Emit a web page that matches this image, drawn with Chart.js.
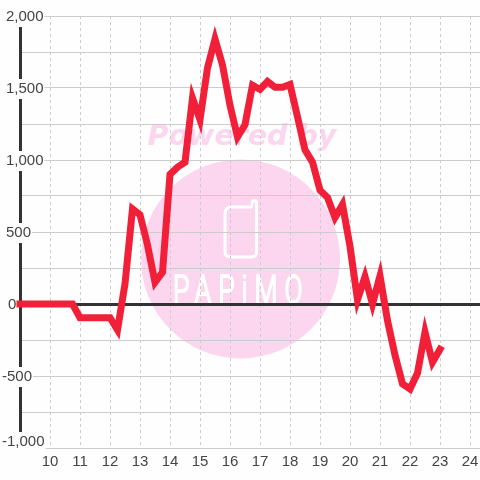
<!DOCTYPE html>
<html>
<head>
<meta charset="utf-8">
<style>html,body{margin:0;padding:0;background:#fefefe}canvas{display:block}</style>
<script src="https://cdn.jsdelivr.net/npm/chart.js@4/dist/chart.umd.min.js"></script>
</head>
<body>
<canvas id="c" width="480" height="480"></canvas>
<script>
const hours = [9,9.25,9.5,9.75,10,10.25,10.5,10.75,11,11.25,11.5,11.75,12,12.25,12.5,12.75,13,13.25,13.5,13.75,14,14.25,14.5,14.75,15,15.25,15.5,15.75,16,16.25,16.5,16.75,17,17.25,17.5,17.75,18,18.25,18.5,18.75,19,19.25,19.5,19.75,20,20.25,20.5,20.75,21,21.25,21.5,21.75,22,22.25,22.5,22.75,23];
const values = [0,0,0,0,0,0,0,0,-95,-95,-95,-95,-95,-180,140,660,620,410,150,220,900,950,985,1430,1280,1640,1840,1660,1380,1160,1245,1520,1490,1545,1505,1505,1525,1300,1070,985,790,740,600,690,400,30,190,0,195,-115,-355,-555,-590,-480,-195,-405,-315];
const labeledY = [2000,1500,1000,500,-500,-1000];
const BG = '#fefefe', INK = '#444', GRID = '#ccc', AXIS = '#333', PINK = '#fbd6ee';

const watermark = {
  id: 'watermark',
  beforeDraw(chart) {
    const c = chart.ctx;
    // nudge y labels: negatives start further left, zero further right, -1,000 sits above its line
    const sy = chart.scales.y;
    sy.getLabelItems(chart.chartArea).forEach(item => {
      if (item.__moved) return;
      item.__moved = true;
      const v = Number(String(item.label).replace(/,/g, ''));
      if (item.label === '') return;
      const t = item.options.translation;
      const dx = v < 0 ? -4 : (v === 0 ? 2 : 0);
      const dy = v === -1000 ? -6 : 1;
      t[0] += dx; t[1] += dy;
      if (item.backdrop) {
        item.backdrop.left += dx;
        item.backdrop.top = t[1] - (v === -1000 ? 6 : 9);
        item.backdrop.height = v === -1000 ? 15 : 16;
      }
    });
    c.save();
    c.fillStyle = BG;
    c.fillRect(0, 0, 480, 480);
    c.fillStyle = PINK;
    c.beginPath();
    c.arc(240.5, 259, 99.5, 0, Math.PI * 2);
    c.fill();
    c.font = 'italic bold 28.5px "DejaVu Sans"';
    c.textAlign = 'center';
    c.textBaseline = 'alphabetic';
    c.fillText('Powered by', 242, 145);
    c.strokeStyle = '#fff';
    c.lineWidth = 3;
    c.lineJoin = 'round';
    c.beginPath();
    c.moveTo(232, 207);
    c.lineTo(250, 207);
    c.quadraticCurveTo(252, 207, 252, 204);
    c.quadraticCurveTo(252, 200.5, 254.5, 200.5);
    c.quadraticCurveTo(256.5, 200.5, 256.5, 203);
    c.lineTo(256.5, 252);
    c.quadraticCurveTo(256.5, 257, 251, 257);
    c.lineTo(231, 257);
    c.quadraticCurveTo(225, 257, 225, 252);
    c.lineTo(225, 214);
    c.quadraticCurveTo(225, 207, 232, 207);
    c.stroke();
    c.fillStyle = '#fff';
    c.strokeStyle = '#fff';
    c.lineWidth = 2;
    c.font = '300 38px Roboto';
    c.letterSpacing = '10px';
    c.textAlign = 'left';
    c.save();
    c.translate(173, 303);
    c.scale(0.7, 1);
    c.fillText('PAPiMO', 0, 0);
    c.strokeText('PAPiMO', 0, 0);
    c.restore();
    c.restore();
  }
};

new Chart(document.getElementById('c'), {
  type: 'line',
  data: {
    datasets: [{
      data: hours.map((h, i) => ({ x: h, y: values[i] })),
      borderColor: '#f11f38',
      borderWidth: 7,
      borderCapStyle: 'square',
      pointRadius: 0,
      tension: 0,
      fill: false,
      clip: 8
    }]
  },
  plugins: [watermark],
  options: {
    responsive: false,
    animation: false,
    events: [],
    layout: { padding: { top: 16, left: 20, right: 0, bottom: 0 } },
    plugins: { legend: { display: false }, tooltip: { enabled: false } },
    scales: {
      x: {
        type: 'linear',
        min: 9,
        max: 24.3333,
        afterFit(s) { s.height = 32; s.paddingLeft = 0; s.paddingRight = 0; },
        grid: { color: GRID, lineWidth: 1, drawTicks: false },
        border: { display: false, dash: [3, 3] },
        ticks: {
          stepSize: 1,
          includeBounds: false,
          autoSkip: false,
          maxRotation: 0,
          padding: 5,
          color: INK,
          font: { family: '"Liberation Sans"', size: 15 },
          callback: v => (v === 9 ? '' : String(v))
        }
      },
      y: {
        min: -1000,
        max: 2000,
        afterFit(s) { s.width = 0; },
        grid: {
          color: c => (c.tick && c.tick.value === 0 ? AXIS : GRID),
          lineWidth: c => (c.tick && c.tick.value === 0 ? 3 : 1),
          drawTicks: false
        },
        border: { display: true, color: AXIS, width: 3 },
        ticks: {
          stepSize: 250,
          autoSkip: false,
          mirror: true,
          padding: -14,
          color: INK,
          font: { family: '"Liberation Sans"', size: 15 },
          showLabelBackdrop: c => labeledY.includes(c.tick.value),
          backdropColor: BG,
          backdropPadding: 1,
          callback: v => (v % 500 === 0 ? v.toLocaleString('en-US') : '')
        }
      }
    }
  }
});
</script>
</body>
</html>
